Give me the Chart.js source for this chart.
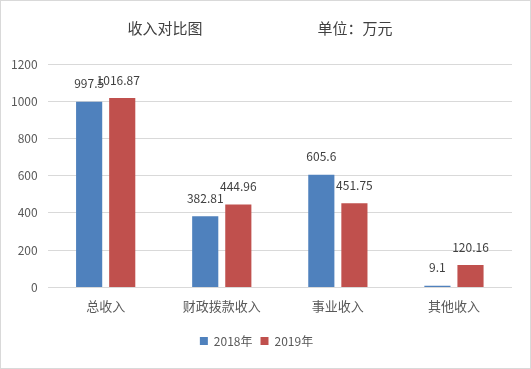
<!DOCTYPE html>
<html>
<head>
<meta charset="utf-8">
<script src="https://cdn.jsdelivr.net/npm/chart.js@4"></script>
<style>
  html, body { margin: 0; padding: 0; background: #fff; }
  #frame { position: absolute; left: 0; top: 0; width: 529px; height: 367px; border: 1px solid #d9d9d9; }
  #wrap { position: absolute; left: 0; top: 0; width: 531px; height: 369px; }
</style>
</head>
<body>
<div id="frame"></div>
<div id="wrap"><canvas id="incomeChart"></canvas></div>
<script>
const categories = ['总收入', '财政拨款收入', '事业收入', '其他收入'];
const seriesNames = ['2018年', '2019年'];
const values2018 = [997.5, 382.81, 605.6, 9.1];
const values2019 = [1016.87, 444.96, 451.75, 120.16];
const yTicks = [0, 200, 400, 600, 800, 1000, 1200];
const titleText = '收入对比图';
const unitText = '单位：万元';

const FONT = '"Noto Sans CJK SC", "Noto Sans", sans-serif';

// headings drawn at the top of the card
const headingPlugin = {
    id: 'heading',
    afterDraw(chart) {
        const c = chart.ctx;
        c.save();
        c.font = '15px ' + FONT;
        c.fillStyle = '#404040';
        c.textAlign = 'center';
        c.textBaseline = 'middle';
        c.fillText(titleText, 165, 28);
        c.fillText(unitText, 355, 28);
        c.restore();
    }
};

// value labels above each bar
const valueLabels = {
    id: 'valueLabels',
    afterDatasetsDraw(chart) {
        const c = chart.ctx;
        c.save();
        c.font = '12px ' + FONT;
        c.fillStyle = '#404040';
        c.textAlign = 'center';
        c.textBaseline = 'middle';
        chart.data.datasets.forEach((ds, i) => {
            chart.getDatasetMeta(i).data.forEach((bar, j) => {
                const dx = (i === 1 && j === 0) ? -4 : 0;
                c.fillText(String(ds.data[j]), bar.x + dx, bar.y - 18);
            });
        });
        c.restore();
    }
};

const ctx = document.getElementById('incomeChart').getContext('2d');
const chart = new Chart(ctx, {
    type: 'bar',
    data: {
        labels: categories,
        datasets: [
            {
                label: seriesNames[0],
                data: values2018,
                backgroundColor: '#4F81BD',
                categoryPercentage: 0.57,
                barPercentage: 0.79
            },
            {
                label: seriesNames[1],
                data: values2019,
                backgroundColor: '#C0504D',
                categoryPercentage: 0.57,
                barPercentage: 0.79
            }
        ]
    },
    options: {
        responsive: true,
        maintainAspectRatio: false,
        animation: false,
        layout: { padding: { top: 64, left: 1, right: 19, bottom: 12 } },
        plugins: {
            legend: {
                position: 'bottom',
                labels: {
                    boxWidth: 8,
                    boxHeight: 8,
                    padding: 8,
                    color: '#595959',
                    font: { family: FONT, size: 12 }
                }
            },
            tooltip: { enabled: false }
        },
        scales: {
            x: {
                grid: { display: false },
                border: { display: false },
                afterFit: axis => { axis.height += 10; },
                ticks: {
                    color: '#595959',
                    padding: 3,
                    font: { family: FONT, size: 13 }
                }
            },
            y: {
                min: 0,
                max: 1200,
                afterBuildTicks: axis => { axis.ticks = yTicks.map(v => ({ value: v })); },
                grid: { color: '#d9d9d9', lineWidth: 1, drawTicks: false },
                border: { display: false },
                ticks: {
                    color: '#595959',
                    padding: 10,
                    callback: v => String(v),
                    font: { family: FONT, size: 12 }
                }
            }
        }
    },
    plugins: [headingPlugin, valueLabels]
});
</script>
</body>
</html>
